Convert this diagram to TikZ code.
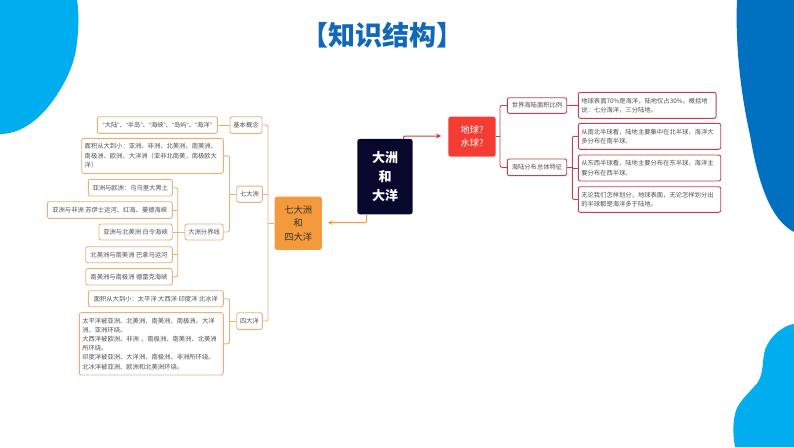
\documentclass[tikz,border=0pt]{standalone}
\usepackage{fontspec}
\setmainfont{Noto Sans CJK SC}
\newfontfamily\latf{Liberation Sans}
\usetikzlibrary{arrows.meta}
\definecolor{bluea}{HTML}{00ADEF}
\definecolor{blueb}{HTML}{0070C0}
\definecolor{ttl}{HTML}{1069B8}
\definecolor{org}{HTML}{F59A3C}
\definecolor{orgl}{HTML}{E6B27C}
\definecolor{redd}{HTML}{C0424C}
\definecolor{redf}{HTML}{F53C32}
\definecolor{navy}{HTML}{08082E}
\definecolor{txt}{HTML}{505050}
\newcommand{\lqm}{{\latf “}}
\newcommand{\rqm}{{\latf ”}}
\tikzset{x=1pt,y=-1pt,
 obox/.style={draw=orgl,line width=0.9pt,rounded corners=2pt,fill=white,text=txt,font=\fontsize{6.3}{9.2}\selectfont,inner sep=0pt,align=center},
 tbox/.style={obox,align=left,inner xsep=3pt},
 rbox/.style={obox,draw=redd},
 rtbox/.style={tbox,draw=redd},
 ol/.style={draw=orgl,line width=0.9pt,rounded corners=2pt},
 rl/.style={draw=redd,line width=0.9pt,rounded corners=2pt}}
\begin{document}
\begin{tikzpicture}
\useasboundingbox (0,0) rectangle (794,447);
\fill[white] (0,0) rectangle (794,447);
% decorative blobs
\fill[bluea] (0,0) -- (77,0) .. controls (79,12) and (79,30) .. (76,50) .. controls (72,72) and (60,92) .. (48,107) .. controls (35,123) and (18,134) .. (0,134) -- cycle;
\fill[blueb] (737,0) -- (794,0) -- (794,232) .. controls (775,222) and (760,195) .. (750,135) .. controls (741,95) and (735,45) .. (737,0) -- cycle;
\fill[bluea] (794,324) .. controls (785,325) and (770,335) .. (765,350) .. controls (762,360) and (764,372) .. (758,382) .. controls (752,390) and (742,398) .. (737,408) .. controls (732,420) and (733,435) .. (735,447) -- (794,447) -- cycle;
\node[text=ttl,font=\fontsize{27}{30}\selectfont\bfseries] (title) at (382.5,35) {【知识结构】};
% central
\node[fill=navy,rounded corners=2.5pt,minimum width=55.4pt,minimum height=75.3pt,text=white,font=\fontsize{13}{19}\selectfont\bfseries,align=center,inner sep=0pt] (c) at (385,176.6) {大洲\\和\\大洋};
\node[fill=org,rounded corners=2.5pt,minimum width=47.3pt,minimum height=53.3pt,text=black!80,font=\fontsize{9.3}{13.3}\selectfont,align=center,inner sep=0pt] (q) at (298.3,223.3) {七大洲\\和\\四大洋};
\node[fill=redf,rounded corners=2.5pt,minimum width=47.4pt,minimum height=40pt,text=white,font=\fontsize{9.3}{13.3}\selectfont,align=center,inner sep=0pt] (e) at (472,136.7) {地球?\\水球?};
\coordinate (qtip) at (328,222.7);
\coordinate (etip) at (441,136);
\draw[draw=org,line width=1pt,rounded corners=2pt,-{Stealth[length=4.5pt,width=4.5pt]}] (c.south west) ++(9.4,0) |- (qtip);
\draw[draw=redd,line width=1pt,rounded corners=2pt,-{Stealth[length=5pt,width=5pt]}] (c.north east) ++(-9.4,0) |- (etip);
% left boxes
\node[obox,minimum width=120pt,minimum height=16.6pt] (a1) at (157.3,125) {\lqm 大陆\rqm 、\lqm 半岛\rqm 、\lqm 海峡\rqm 、\lqm 岛屿\rqm 、\lqm 海洋\rqm};
\node[obox,minimum width=32pt,minimum height=16.6pt] (b1) at (246,125) {基本概念};
\node[tbox,text width=135.6pt,minimum height=35pt] (a2) at (152.5,155.8) {面积从大到小：亚洲、非洲、北美洲、南美洲、\\南极洲、欧洲、大洋洲（亚非北南美，南极欧大\\洋）};
\node[obox,minimum width=25.6pt,minimum height=16.3pt] (b2) at (249.5,194.2) {七大洲};
\node[obox,minimum width=84pt,minimum height=16.6pt] (a3) at (130.3,187.7) {亚洲与欧洲：乌乌里大黑土};
\node[obox,minimum width=125pt,minimum height=16.6pt] (a4) at (109.8,210) {亚洲与非洲 苏伊士运河、红海、曼德海峡};
\node[obox,minimum width=73.3pt,minimum height=16pt] (a5) at (135.6,232) {亚洲与北美洲 白令海峡};
\node[obox,minimum width=38.3pt,minimum height=16pt] (b3) at (204.1,232) {大洲分界线};
\node[obox,minimum width=86.6pt,minimum height=16pt] (a6) at (129,254.7) {北美洲与南美洲 巴拿马运河};
\node[obox,minimum width=86.6pt,minimum height=16.3pt] (a7) at (129,276.8) {南美洲与南极洲 德雷克海峡};
\node[obox,minimum width=135pt,minimum height=16pt] (a8) at (155.8,298.7) {面积从大到小：太平洋 大西洋 印度洋 北冰洋};
\node[tbox,text width=138pt,minimum height=62.3pt] (a9) at (151.3,343.8) {太平洋被亚洲、北美洲、南美洲、南极洲、大洋\\洲、亚洲环绕。\\大西洋被欧洲、非洲 、南极洲、南美洲、北美洲\\所环绕。\\印度洋被亚洲、大洋洲、南极洲、非洲所环绕。\\北冰洋被亚洲、欧洲和北美洲环绕。};
\node[obox,minimum width=25.6pt,minimum height=16.6pt] (b4) at (249.5,321) {四大洋};
% left connectors
\coordinate (busA) at (268,223.3);
\coordinate (busB) at (229.5,194.2);
\coordinate (busC) at (177.7,232);
\coordinate (busD) at (229.5,321);
\draw[ol] (q.west) -- (busA);
\draw[ol] (b1.east) -| (busA) |- (b4.east);
\draw[ol] (b2.east) -- (busA |- b2.east);
\draw[ol] (a1.east) -- (b1.west);
\draw[ol] (b2.west) -- (busB);
\draw[ol] (a2.east) -| (busB) |- (b3.east);
\draw[ol] (a3.east) -| (busC) |- (a7.east);
\draw[ol] (a4.east) -- (busC |- a4.east);
\draw[ol] (a5.east) -- (b3.west);
\draw[ol] (a6.east) -- (busC |- a6.east);
\draw[ol] (b4.west) -- (busD);
\draw[ol] (a8.east) -| (busD) |- (a9.east);
% right boxes
\node[rbox,minimum width=59.4pt,minimum height=15.6pt] (r1) at (537,105.5) {世界海陆面积比例};
\node[rbox,minimum width=59.4pt,minimum height=16.6pt] (r2) at (537,167.3) {海陆分布总体特征};
\node[rtbox,text width=131.7pt,minimum height=26pt] (s1) at (647.2,105.3) {地球表面70\%是海洋，陆地仅占30\%。概括地\\说：七分海洋，三分陆地。};
\node[rtbox,text width=136.4pt,minimum height=26pt] (s2) at (649.5,136.3) {从南北半球看，陆地主要集中在北半球，海洋大\\多分布在南半球。};
\node[rtbox,text width=136.4pt,minimum height=26pt] (s3) at (649.5,168) {从东西半球看，陆地主要分布在东半球，海洋主\\要分布在西半球。};
\node[rtbox,text width=136.4pt,minimum height=25.6pt] (s4) at (649.5,199.5) {无论我们怎样划分，地球表面，无论怎样划分出\\的半球都是海洋多于陆地。};
% right connectors
\coordinate (busE) at (500,136.7);
\coordinate (busF) at (572.3,167.3);
\draw[rl] (e.east) -- (busE);
\draw[rl] (r1.west) -| (busE) |- (r2.west);
\draw[rl] (r1.east) -- (s1.west);
\draw[rl] (r2.east) -- (busF);
\draw[rl] (s2.west) -| (busF) |- (s4.west);
\draw[rl] (s3.west) -- (busF |- s3.west);
\end{tikzpicture}
\end{document}
